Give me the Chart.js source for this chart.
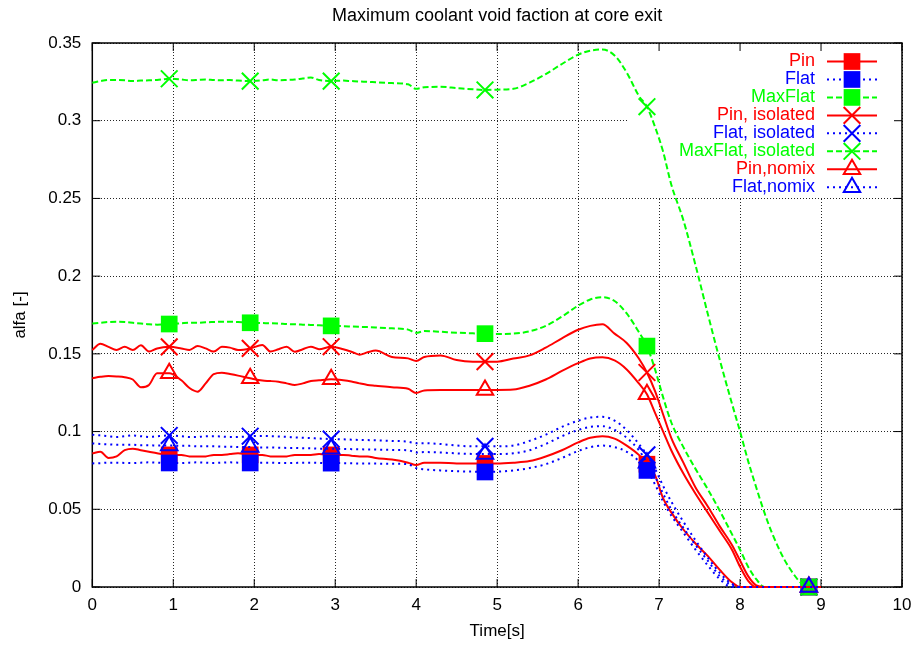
<!DOCTYPE html>
<html>
<head>
<meta charset="utf-8">
<script src="https://cdn.jsdelivr.net/npm/chart.js@4.4.1/dist/chart.umd.min.js"></script>
<style>
  html, body { margin: 0; padding: 0; background: #fff; }
  #wrap { width: 913px; height: 645px; }
</style>
</head>
<body>
<div id="wrap"><canvas id="voidChart" width="913" height="645"></canvas></div>
<script>
// time grid [s], shared by all curves
var time = [0, 0.1, 0.2, 0.3, 0.4, 0.5, 0.6, 0.7, 0.8, 0.95,
  1.1, 1.2, 1.3, 1.4, 1.5, 1.6, 1.7, 1.8, 1.95,
  2.1, 2.2, 2.3, 2.4, 2.5, 2.6, 2.7, 2.8, 2.95,
  3.1, 3.2, 3.3, 3.4, 3.5, 3.7, 3.9,
  4.0, 4.1, 4.3, 4.5, 4.7, 4.85,
  5.0, 5.2, 5.4, 5.6, 5.8,
  6.0, 6.15, 6.3, 6.45, 6.6, 6.75, 6.85, 6.95,
  7.05, 7.15, 7.3, 7.45, 7.6, 7.75, 7.9,
  8.0, 8.1, 8.2, 8.3, 8.4, 8.6, 8.85, 9.0];

// times where gnuplot put a point symbol
var markerTimes = [0.95, 1.95, 2.95, 4.85, 6.85, 8.85];

var pin = [0.086, 0.087, 0.083, 0.084, 0.088, 0.089, 0.088, 0.087, 0.086, 0.085,
  0.085, 0.084, 0.084, 0.084, 0.085, 0.085, 0.0855, 0.086, 0.085,
  0.085, 0.084, 0.084, 0.084, 0.085, 0.085, 0.085, 0.0855, 0.085,
  0.085, 0.0845, 0.084, 0.084, 0.083, 0.082, 0.080,
  0.0785, 0.080, 0.080, 0.0795, 0.0795, 0.0795,
  0.0795, 0.080, 0.081, 0.084, 0.088,
  0.093, 0.096, 0.097, 0.0955, 0.091, 0.085, 0.079, 0.072,
  0.057, 0.048, 0.037, 0.028, 0.020, 0.011, 0.003,
  0, 0, 0, 0, 0, 0, 0, 0];

var flat = [0.0795, 0.0797, 0.080, 0.080, 0.0798, 0.0797, 0.080, 0.0802, 0.080, 0.0798,
  0.0797, 0.080, 0.0802, 0.080, 0.0798, 0.080, 0.0802, 0.080, 0.0798,
  0.080, 0.080, 0.0798, 0.0797, 0.0798, 0.080, 0.080, 0.0798, 0.0797,
  0.0797, 0.0796, 0.0795, 0.0795, 0.0794, 0.0793, 0.079,
  0.0765, 0.0757, 0.075, 0.0745, 0.0742, 0.074,
  0.0742, 0.075, 0.0765, 0.079, 0.083,
  0.0875, 0.090, 0.091, 0.090, 0.087, 0.081, 0.075, 0.066,
  0.055, 0.046, 0.035, 0.024, 0.014, 0.005, 0,
  0, 0, 0, 0, 0, 0, 0, 0];

var maxFlat = [0.1695, 0.170, 0.1705, 0.1707, 0.1705, 0.170, 0.1695, 0.169, 0.1688, 0.1692,
  0.1697, 0.170, 0.170, 0.1703, 0.1705, 0.1707, 0.1707, 0.1705, 0.170,
  0.1698, 0.1697, 0.1695, 0.1692, 0.169, 0.1688, 0.1686, 0.1684, 0.168,
  0.1678, 0.1676, 0.1674, 0.1672, 0.167, 0.1664, 0.1656,
  0.1635, 0.1647, 0.1642, 0.1636, 0.1632, 0.163,
  0.1628, 0.163, 0.1645, 0.168, 0.174,
  0.181, 0.185, 0.1865, 0.184, 0.176, 0.164, 0.155, 0.140,
  0.122, 0.106, 0.090, 0.076, 0.063, 0.049, 0.034,
  0.024, 0.013, 0.005, 0, 0, 0, 0, 0];

var pinIsolated = [0.1525, 0.1565, 0.1545, 0.1525, 0.1545, 0.1525, 0.1555, 0.1515, 0.1535, 0.1545,
  0.1535, 0.1525, 0.155, 0.1535, 0.1515, 0.1545, 0.154, 0.1525, 0.1535,
  0.1557, 0.1515, 0.153, 0.1546, 0.1514, 0.153, 0.1546, 0.153, 0.1546,
  0.153, 0.1514, 0.1495, 0.151, 0.1521, 0.148, 0.1471,
  0.1454, 0.148, 0.149, 0.146, 0.145, 0.145,
  0.145, 0.147, 0.149, 0.154, 0.160,
  0.1655, 0.168, 0.169, 0.163, 0.157, 0.147, 0.138, 0.126,
  0.111, 0.096, 0.080, 0.064, 0.052, 0.039, 0.027,
  0.017, 0.007, 0.001, 0, 0, 0, 0, 0];

var flatIsolated = [0.098, 0.0975, 0.097, 0.0965, 0.097, 0.0975, 0.097, 0.0965, 0.097, 0.0975,
  0.097, 0.0965, 0.0965, 0.097, 0.097, 0.0968, 0.0965, 0.0965, 0.097,
  0.0972, 0.097, 0.0968, 0.0966, 0.0962, 0.096, 0.0958, 0.0955, 0.0952,
  0.095, 0.0948, 0.0946, 0.0945, 0.0944, 0.094, 0.0935,
  0.0925, 0.0925, 0.092, 0.091, 0.0905, 0.0905,
  0.0905, 0.091, 0.094, 0.098, 0.103,
  0.107, 0.109, 0.1095, 0.107, 0.101, 0.092, 0.085, 0.076,
  0.065, 0.055, 0.042, 0.030, 0.019, 0.009, 0.002,
  0, 0, 0, 0, 0, 0, 0, 0];

var maxFlatIsolated = [0.3244, 0.3255, 0.3262, 0.3262, 0.326, 0.3255, 0.3258, 0.326, 0.3262, 0.327,
  0.3265, 0.326, 0.3262, 0.3265, 0.3262, 0.326, 0.3262, 0.3258, 0.3255,
  0.326, 0.3265, 0.326, 0.3262, 0.3265, 0.3272, 0.3278, 0.3262, 0.3255,
  0.3258, 0.3255, 0.3252, 0.325, 0.3247, 0.3242, 0.3234,
  0.3205, 0.3215, 0.3218, 0.321, 0.3202, 0.3198,
  0.320, 0.3205, 0.3245, 0.330, 0.3365,
  0.3425, 0.345, 0.3458, 0.342, 0.331, 0.316, 0.309, 0.296,
  0.280, 0.259, 0.236, 0.207, 0.176, 0.146, 0.118,
  0.100, 0.081, 0.064, 0.048, 0.034, 0.013, 0, 0];

var pinNomix = [0.1343, 0.1352, 0.1357, 0.1355, 0.135, 0.1335, 0.1285, 0.130, 0.1375, 0.1375,
  0.133, 0.128, 0.1257, 0.131, 0.137, 0.1379, 0.137, 0.136, 0.1343,
  0.1328, 0.1325, 0.132, 0.131, 0.130, 0.131, 0.1325, 0.133, 0.1336,
  0.133, 0.1322, 0.131, 0.130, 0.1295, 0.1285, 0.1275,
  0.1248, 0.1265, 0.1268, 0.1268, 0.1268, 0.1268,
  0.1268, 0.127, 0.1295, 0.1335, 0.139,
  0.144, 0.147, 0.1478, 0.1458, 0.140, 0.131, 0.124, 0.112,
  0.100, 0.088, 0.073, 0.060, 0.048, 0.036, 0.024,
  0.013, 0.004, 0, 0, 0, 0, 0, 0];

var flatNomix = [0.0924, 0.092, 0.0918, 0.0915, 0.0915, 0.0915, 0.0912, 0.0912, 0.091, 0.091,
  0.0908, 0.0908, 0.0905, 0.0905, 0.0905, 0.0903, 0.0903, 0.090, 0.090,
  0.0898, 0.0898, 0.0896, 0.0895, 0.0895, 0.0893, 0.0892, 0.089, 0.089,
  0.0888, 0.0887, 0.0886, 0.0885, 0.0884, 0.0882, 0.088,
  0.0865, 0.0868, 0.0865, 0.086, 0.0856, 0.0855,
  0.0855, 0.086, 0.088, 0.092, 0.097,
  0.101, 0.103, 0.1035, 0.101, 0.096, 0.088, 0.080, 0.071,
  0.060, 0.050, 0.038, 0.027, 0.017, 0.007, 0.001,
  0, 0, 0, 0, 0, 0, 0, 0];

var xTicks = [0, 1, 2, 3, 4, 5, 6, 7, 8, 9, 10];
var yTicks = [0, 0.05, 0.1, 0.15, 0.2, 0.25, 0.3, 0.35];

var FONT = '"Liberation Sans", Arial, Helvetica, sans-serif';
var RED = '#ff0000', BLUE = '#0000ff', GREEN = '#00ff00';
var SOLID = [], DOTTED = [2, 4], DASHED = [6, 3];

var series = [
  {label: 'Pin', values: pin, color: RED, dash: SOLID, marker: 'rect'},
  {label: 'Flat', values: flat, color: BLUE, dash: DOTTED, marker: 'rect'},
  {label: 'MaxFlat', values: maxFlat, color: GREEN, dash: DASHED, marker: 'rect'},
  {label: 'Pin, isolated', values: pinIsolated, color: RED, dash: SOLID, marker: 'crossRot'},
  {label: 'Flat, isolated', values: flatIsolated, color: BLUE, dash: DOTTED, marker: 'crossRot'},
  {label: 'MaxFlat, isolated', values: maxFlatIsolated, color: GREEN, dash: DASHED, marker: 'crossRot'},
  {label: 'Pin,nomix', values: pinNomix, color: RED, dash: SOLID, marker: 'triangle'},
  {label: 'Flat,nomix', values: flatNomix, color: BLUE, dash: DOTTED, marker: 'triangle'}
];

var markerIdx = markerTimes.map(function(t) { return time.indexOf(t); });

function markerRadius(style) { return style === 'triangle' ? 9.5 : 11.8; }
function markerFill(s) { return s.marker === 'rect' ? s.color : 'rgba(0,0,0,0)'; }

var datasets = series.map(function(s, i) {
  return {
    label: s.label,
    data: time.map(function(t, k) { return {x: t, y: s.values[k]}; }),
    borderColor: s.color,
    borderWidth: 2,
    borderDash: s.dash,
    backgroundColor: markerFill(s),
    pointStyle: s.marker,
    pointRadius: function(ctx) {
      return markerIdx.indexOf(ctx.dataIndex) >= 0 ? markerRadius(s.marker) : 0;
    },
    pointBorderWidth: s.marker === 'rect' ? 0 : 2,
    pointBorderColor: s.color,
    pointBackgroundColor: markerFill(s),
    cubicInterpolationMode: 'monotone',
    fill: false,
    clip: false,
    order: series.length - i   // later curves on top, like gnuplot
  };
});

// gnuplot look: border box, inward ticks, key area, title
var gnuFrame = {
  id: 'gnuFrame',
  beforeDatasetsDraw: function(chart) {
    var ctx = chart.ctx, a = chart.chartArea;
    ctx.save();
    // key area hides the grid
    ctx.fillStyle = '#fff';
    ctx.fillRect(628, a.top + 1, a.right - 628 - 1, 196 - a.top);
    ctx.strokeStyle = '#000';
    ctx.lineWidth = 1.5;
    ctx.strokeRect(a.left, a.top, a.right - a.left, a.bottom - a.top);
    ctx.lineWidth = 1;
    ctx.beginPath();
    xTicks.forEach(function(v) {
      var px = chart.scales.x.getPixelForValue(v);
      ctx.moveTo(px, a.bottom); ctx.lineTo(px, a.bottom - 8);
      ctx.moveTo(px, a.top); ctx.lineTo(px, a.top + 8);
    });
    yTicks.forEach(function(v) {
      var py = chart.scales.y.getPixelForValue(v);
      ctx.moveTo(a.left, py); ctx.lineTo(a.left + 8, py);
      ctx.moveTo(a.right, py); ctx.lineTo(a.right - 8, py);
    });
    ctx.stroke();
    ctx.restore();
  },
  afterDraw: function(chart) {
    var ctx = chart.ctx, a = chart.chartArea;
    ctx.save();
    ctx.fillStyle = '#000';
    ctx.font = '18px ' + FONT;
    ctx.textAlign = 'center';
    ctx.textBaseline = 'middle';
    ctx.fillText('Maximum coolant void faction at core exit', (a.left + a.right) / 2, 16);

    ctx.textAlign = 'right';
    series.forEach(function(s, i) {
      var y = 61.5 + i * 17.96;
      ctx.fillStyle = s.color;
      ctx.fillText(s.label, 815, y);
      ctx.strokeStyle = s.color;
      ctx.lineWidth = 2;
      ctx.setLineDash(s.dash);
      ctx.beginPath();
      ctx.moveTo(827, y); ctx.lineTo(877, y);
      ctx.stroke();
      ctx.setLineDash([]);
      ctx.fillStyle = markerFill(s);
      Chart.helpers.drawPoint(ctx, {
        pointStyle: s.marker,
        radius: markerRadius(s.marker),
        borderWidth: s.marker === 'rect' ? 0 : 2,
        rotation: 0
      }, 852, y);
    });
    ctx.restore();
  }
};

new Chart(document.getElementById('voidChart').getContext('2d'), {
  type: 'line',
  data: { datasets: datasets },
  options: {
    responsive: false,
    animation: false,
    events: [],
    layout: { padding: { left: 0, right: 11, top: 43, bottom: 0 } },
    plugins: { legend: { display: false }, title: { display: false }, tooltip: { enabled: false } },
    scales: {
      x: {
        type: 'linear',
        min: 0, max: 10,
        afterFit: function(scale) {
          scale.height = 58;
          scale.paddingLeft = 0;
          scale.paddingRight = 0;
        },
        afterBuildTicks: function(scale) {
          scale.ticks = xTicks.map(function(v) { return {value: v}; });
        },
        border: { display: false, dash: [1, 2] },
        grid: { color: 'rgba(0,0,0,0.85)', lineWidth: 1, drawTicks: false },
        ticks: { color: '#000', padding: 8, font: { family: FONT, size: 17 } },
        title: { display: true, text: 'Time[s]', color: '#000', padding: { top: 0, bottom: 3 }, font: { family: FONT, size: 17 } }
      },
      y: {
        min: 0, max: 0.35,
        afterFit: function(scale) {
          scale.width = 92.3;
          scale.paddingTop = 0;
          scale.paddingBottom = 0;
        },
        afterBuildTicks: function(scale) {
          scale.ticks = yTicks.map(function(v) { return {value: v}; });
        },
        border: { display: false, dash: [1, 2] },
        grid: { color: 'rgba(0,0,0,0.85)', lineWidth: 1, drawTicks: false },
        ticks: {
          color: '#000', padding: 11, font: { family: FONT, size: 17 },
          callback: function(v) { return String(Math.round(v * 100) / 100); }
        },
        title: { display: true, text: 'alfa [-]', color: '#000', padding: { top: 10, bottom: 0 }, font: { family: FONT, size: 17 } }
      }
    }
  },
  plugins: [gnuFrame]
});
</script>
</body>
</html>
